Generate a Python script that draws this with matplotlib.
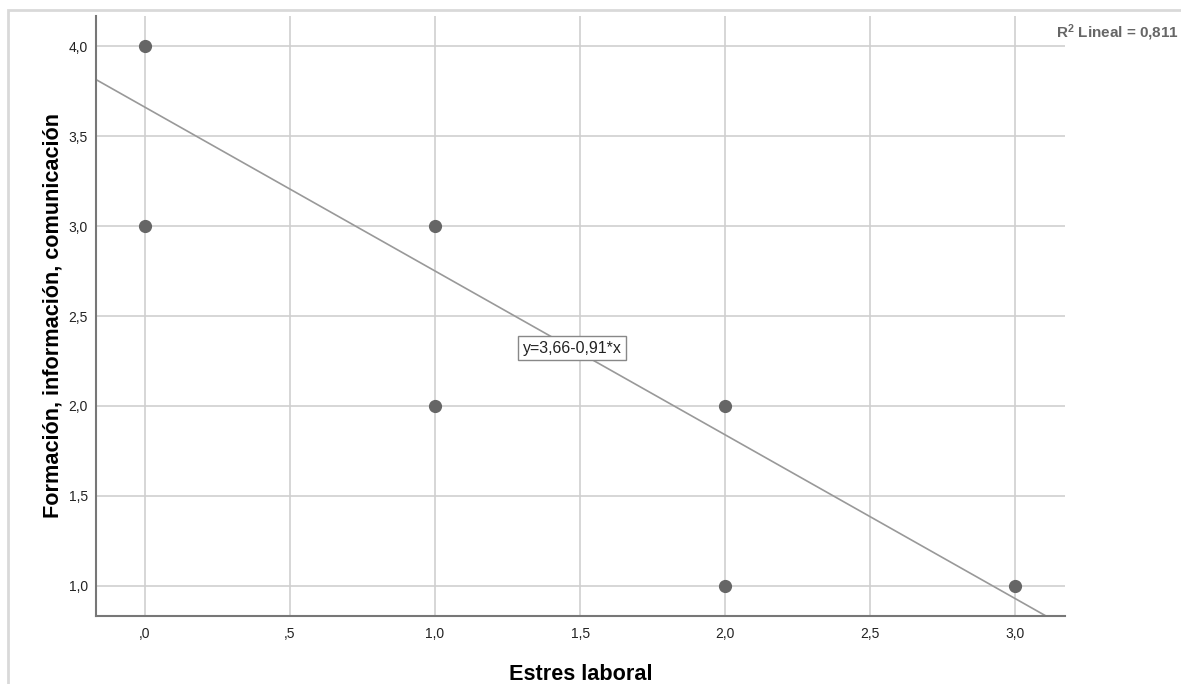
import matplotlib
matplotlib.use("Agg")
import matplotlib.pyplot as plt
from matplotlib.patches import Rectangle

# Data
estres = [0, 0, 1, 1, 2, 2, 3]
formacion = [4, 3, 3, 2, 2, 1, 1]
intercept = 3.66
slope = -0.91
r2_text = "R$^2$ Lineal = 0,811"
eq_text = "y=3,66-0,91*x"
xticks = [0, 0.5, 1.0, 1.5, 2.0, 2.5, 3.0]
xticklabels = [",0", ",5", "1,0", "1,5", "2,0", "2,5", "3,0"]
yticks = [1.0, 1.5, 2.0, 2.5, 3.0, 3.5, 4.0]
yticklabels = ["1,0", "1,5", "2,0", "2,5", "3,0", "3,5", "4,0"]

plt.rcParams['font.family'] = ['Liberation Sans', 'DejaVu Sans']
plt.rcParams['mathtext.fontset'] = 'custom'
plt.rcParams['mathtext.rm'] = 'Liberation Sans:bold'
plt.rcParams['mathtext.default'] = 'regular'

W, H = 1181, 684
fig = plt.figure(figsize=(W / 100, H / 100), dpi=100)

# outer frame
fig.patches.append(Rectangle((8 / W, -0.1), 1.2, 1.1 - 10 / H, transform=fig.transFigure,
                             fill=False, edgecolor='#d9d9d9', linewidth=2))

left, right, top, bottom = 96, 1065, 16, 616
ax = fig.add_axes([left / W, 1 - bottom / H, (right - left) / W, (bottom - top) / H])

xmin, xmax = -0.169, 3.172
ymin, ymax = 0.833, 4.167
ax.set_xlim(xmin, xmax)
ax.set_ylim(ymin, ymax)

ax.set_xticks(xticks)
ax.set_xticklabels(xticklabels)
ax.set_yticks(yticks)
ax.set_yticklabels(yticklabels)
ax.tick_params(length=0, labelsize=10, colors='#222222')
ax.tick_params(axis='x', pad=8)
ax.tick_params(axis='y', pad=6)

ax.grid(True, color='#cfcfcf', linewidth=1.2)
ax.set_axisbelow(True)
for s in ['top', 'right']:
    ax.spines[s].set_visible(False)
for s in ['left', 'bottom']:
    ax.spines[s].set_color('#777777')
    ax.spines[s].set_linewidth(1.5)

# regression line
xs = [xmin, xmax]
ys = [intercept + slope * x for x in xs]
ax.plot(xs, ys, color='#999999', linewidth=1.2, zorder=2, clip_on=True)

ax.scatter(estres, formacion, s=72, color='#666666', zorder=3, clip_on=False)

ax.text(1.472, 2.322, eq_text, ha='center', va='center', fontsize=11.5, color='#222222',
        bbox=dict(boxstyle='square,pad=0.3', facecolor='white', edgecolor='#888888', linewidth=1),
        zorder=4)

fig.text(1179 / W, 1 - 33 / H, r2_text, ha='right', va='center', fontsize=11,
         fontweight='bold', color='#666666')

ax.set_xlabel("Estres laboral", fontsize=15.6, fontweight='bold')
ax.xaxis.set_label_coords(0.5, -(664 - bottom) / (bottom - top))
ax.set_ylabel("Formación, información, comunicación", fontsize=15.6, fontweight='bold')
ax.yaxis.set_label_coords(-(left - 64) / (right - left), 0.5)

fig.savefig("out.png", dpi=100)
